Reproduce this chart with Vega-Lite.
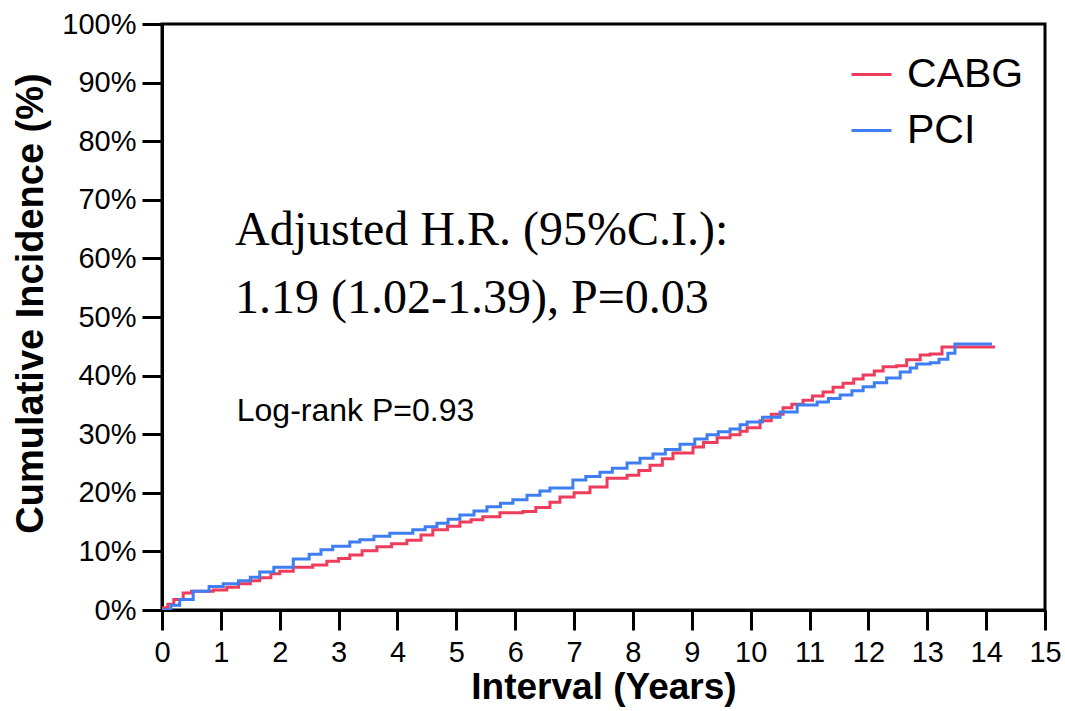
{
  "$schema": "https://vega.github.io/schema/vega-lite/v6.json",
  "width": 883,
  "height": 586,
  "autosize": {"type": "none"},
  "padding": {"left": 162, "top": 24, "right": 20, "bottom": 101},
  "background": "white",
  "config": {
    "view": {"stroke": "black", "strokeWidth": 3},
    "font": "Liberation Sans"
  },
  "datasets": {
    "curves": [
      {"group": "CABG", "t": 0, "inc": 0.4},
      {"group": "CABG", "t": 0.1, "inc": 1.0},
      {"group": "CABG", "t": 0.2, "inc": 1.8},
      {"group": "CABG", "t": 0.36, "inc": 2.9},
      {"group": "CABG", "t": 0.5, "inc": 3.2},
      {"group": "CABG", "t": 0.87, "inc": 3.4},
      {"group": "CABG", "t": 1.1, "inc": 3.9},
      {"group": "CABG", "t": 1.3, "inc": 4.5},
      {"group": "CABG", "t": 1.5, "inc": 5.0},
      {"group": "CABG", "t": 1.66, "inc": 5.5},
      {"group": "CABG", "t": 1.85, "inc": 6.2},
      {"group": "CABG", "t": 2.0, "inc": 6.6},
      {"group": "CABG", "t": 2.23, "inc": 7.3},
      {"group": "CABG", "t": 2.56, "inc": 7.7},
      {"group": "CABG", "t": 2.8, "inc": 8.3},
      {"group": "CABG", "t": 3.0, "inc": 8.8},
      {"group": "CABG", "t": 3.19, "inc": 9.4},
      {"group": "CABG", "t": 3.4, "inc": 10.1},
      {"group": "CABG", "t": 3.65, "inc": 10.8},
      {"group": "CABG", "t": 3.9, "inc": 11.3},
      {"group": "CABG", "t": 4.16, "inc": 11.9},
      {"group": "CABG", "t": 4.4, "inc": 12.8},
      {"group": "CABG", "t": 4.6, "inc": 13.7},
      {"group": "CABG", "t": 4.85, "inc": 14.3},
      {"group": "CABG", "t": 5.06, "inc": 15.0},
      {"group": "CABG", "t": 5.25, "inc": 15.4},
      {"group": "CABG", "t": 5.45, "inc": 15.9},
      {"group": "CABG", "t": 5.74, "inc": 16.6},
      {"group": "CABG", "t": 6.13, "inc": 16.8},
      {"group": "CABG", "t": 6.35, "inc": 17.5},
      {"group": "CABG", "t": 6.59, "inc": 18.4},
      {"group": "CABG", "t": 6.76, "inc": 19.3},
      {"group": "CABG", "t": 7.0, "inc": 20.0},
      {"group": "CABG", "t": 7.27, "inc": 21.0},
      {"group": "CABG", "t": 7.56, "inc": 22.5},
      {"group": "CABG", "t": 7.9, "inc": 23.0},
      {"group": "CABG", "t": 8.1, "inc": 23.8},
      {"group": "CABG", "t": 8.29, "inc": 24.7},
      {"group": "CABG", "t": 8.5, "inc": 25.8},
      {"group": "CABG", "t": 8.68, "inc": 26.8},
      {"group": "CABG", "t": 9.02, "inc": 27.8},
      {"group": "CABG", "t": 9.2, "inc": 28.6},
      {"group": "CABG", "t": 9.43, "inc": 29.4},
      {"group": "CABG", "t": 9.65, "inc": 29.9},
      {"group": "CABG", "t": 9.82, "inc": 30.5},
      {"group": "CABG", "t": 9.94, "inc": 31.1},
      {"group": "CABG", "t": 10.16, "inc": 32.3},
      {"group": "CABG", "t": 10.35, "inc": 33.4},
      {"group": "CABG", "t": 10.55, "inc": 34.5},
      {"group": "CABG", "t": 10.7, "inc": 35.1},
      {"group": "CABG", "t": 10.89, "inc": 35.8},
      {"group": "CABG", "t": 11.05, "inc": 36.5},
      {"group": "CABG", "t": 11.23, "inc": 37.2},
      {"group": "CABG", "t": 11.4, "inc": 38.0},
      {"group": "CABG", "t": 11.57, "inc": 38.7},
      {"group": "CABG", "t": 11.75, "inc": 39.4},
      {"group": "CABG", "t": 11.91, "inc": 40.1},
      {"group": "CABG", "t": 12.1, "inc": 40.8},
      {"group": "CABG", "t": 12.25, "inc": 41.5},
      {"group": "CABG", "t": 12.48, "inc": 41.7},
      {"group": "CABG", "t": 12.65, "inc": 42.7},
      {"group": "CABG", "t": 12.88, "inc": 43.5},
      {"group": "CABG", "t": 13.05, "inc": 43.7},
      {"group": "CABG", "t": 13.25, "inc": 44.9},
      {"group": "CABG", "t": 14.15, "inc": 44.9},
      {"group": "PCI", "t": 0, "inc": 0},
      {"group": "PCI", "t": 0.15, "inc": 0.8},
      {"group": "PCI", "t": 0.3, "inc": 1.8},
      {"group": "PCI", "t": 0.53, "inc": 3.2},
      {"group": "PCI", "t": 0.8, "inc": 4.0},
      {"group": "PCI", "t": 1.04, "inc": 4.5},
      {"group": "PCI", "t": 1.3, "inc": 5.0},
      {"group": "PCI", "t": 1.5, "inc": 5.6},
      {"group": "PCI", "t": 1.66, "inc": 6.5},
      {"group": "PCI", "t": 1.9, "inc": 7.3},
      {"group": "PCI", "t": 2.23, "inc": 8.7},
      {"group": "PCI", "t": 2.5, "inc": 9.5},
      {"group": "PCI", "t": 2.7, "inc": 10.3},
      {"group": "PCI", "t": 2.9, "inc": 10.9},
      {"group": "PCI", "t": 3.19, "inc": 11.6},
      {"group": "PCI", "t": 3.36, "inc": 12.0},
      {"group": "PCI", "t": 3.6, "inc": 12.6},
      {"group": "PCI", "t": 3.87, "inc": 13.1},
      {"group": "PCI", "t": 4.26, "inc": 13.7},
      {"group": "PCI", "t": 4.47, "inc": 14.2},
      {"group": "PCI", "t": 4.67, "inc": 14.8},
      {"group": "PCI", "t": 4.86, "inc": 15.5},
      {"group": "PCI", "t": 5.06, "inc": 16.2},
      {"group": "PCI", "t": 5.3, "inc": 16.9},
      {"group": "PCI", "t": 5.52, "inc": 17.6},
      {"group": "PCI", "t": 5.75, "inc": 18.2},
      {"group": "PCI", "t": 5.96, "inc": 18.8},
      {"group": "PCI", "t": 6.2, "inc": 19.6},
      {"group": "PCI", "t": 6.42, "inc": 20.3},
      {"group": "PCI", "t": 6.59, "inc": 20.8},
      {"group": "PCI", "t": 6.98, "inc": 22.2},
      {"group": "PCI", "t": 7.2, "inc": 22.8},
      {"group": "PCI", "t": 7.44, "inc": 23.5},
      {"group": "PCI", "t": 7.65, "inc": 24.2},
      {"group": "PCI", "t": 7.9, "inc": 25.1},
      {"group": "PCI", "t": 8.12, "inc": 25.9},
      {"group": "PCI", "t": 8.34, "inc": 26.6},
      {"group": "PCI", "t": 8.55, "inc": 27.4},
      {"group": "PCI", "t": 8.8, "inc": 28.3},
      {"group": "PCI", "t": 9.05, "inc": 29.2},
      {"group": "PCI", "t": 9.26, "inc": 29.9},
      {"group": "PCI", "t": 9.45, "inc": 30.4},
      {"group": "PCI", "t": 9.65, "inc": 30.9},
      {"group": "PCI", "t": 9.82, "inc": 31.6},
      {"group": "PCI", "t": 9.94, "inc": 32.1},
      {"group": "PCI", "t": 10.2, "inc": 32.9},
      {"group": "PCI", "t": 10.5, "inc": 33.8},
      {"group": "PCI", "t": 10.79, "inc": 35.0},
      {"group": "PCI", "t": 11.13, "inc": 35.5},
      {"group": "PCI", "t": 11.32, "inc": 36.1},
      {"group": "PCI", "t": 11.52, "inc": 36.7},
      {"group": "PCI", "t": 11.72, "inc": 37.4},
      {"group": "PCI", "t": 11.91, "inc": 38.1},
      {"group": "PCI", "t": 12.1, "inc": 38.8},
      {"group": "PCI", "t": 12.31, "inc": 39.6},
      {"group": "PCI", "t": 12.54, "inc": 40.6},
      {"group": "PCI", "t": 12.71, "inc": 41.3},
      {"group": "PCI", "t": 12.82, "inc": 42.0},
      {"group": "PCI", "t": 13.05, "inc": 42.2},
      {"group": "PCI", "t": 13.2, "inc": 42.8},
      {"group": "PCI", "t": 13.35, "inc": 43.8},
      {"group": "PCI", "t": 13.47, "inc": 45.4},
      {"group": "PCI", "t": 14.1, "inc": 45.4}
    ],
    "hrText": [
      {"t": 1.24, "inc": 62.3, "label": "Adjusted H.R. (95%C.I.):"},
      {"t": 1.24, "inc": 50.7, "label": "1.19 (1.02-1.39), P=0.03"}
    ],
    "logrankText": [
      {"t": 1.27, "inc": 32.3, "label": "Log-rank P=0.93"}
    ]
  },
  "layer": [
    {
      "data": {"name": "curves"},
      "mark": {"type": "line", "interpolate": "step-after", "strokeWidth": 3, "clip": true},
      "encoding": {
        "x": {
          "field": "t", "type": "quantitative",
          "scale": {"domain": [0, 15], "nice": false, "zero": false},
          "axis": {
            "title": "Interval (Years)",
            "values": [0,1,2,3,4,5,6,7,8,9,10,11,12,13,14,15],
            "format": "d",
            "grid": false,
            "domainColor": "black", "domainWidth": 3,
            "tickColor": "black", "tickWidth": 3, "tickSize": 20,
            "labelFont": "Liberation Sans", "labelFontSize": 29, "labelColor": "black",
            "labelPadding": 8, "labelFlush": false,
            "titleFont": "Liberation Sans", "titleFontSize": 37, "titleFontWeight": "bold", "titleColor": "black",
            "titlePadding": 2
          }
        },
        "y": {
          "field": "inc", "type": "quantitative",
          "scale": {"domain": [0, 100], "nice": false},
          "axis": {
            "title": "Cumulative Incidence (%)",
            "values": [0,10,20,30,40,50,60,70,80,90,100],
            "labelExpr": "datum.value + '%'",
            "grid": false,
            "domainColor": "black", "domainWidth": 3,
            "tickColor": "black", "tickWidth": 3, "tickSize": 20,
            "labelFont": "Liberation Sans", "labelFontSize": 29, "labelColor": "black",
            "labelPadding": 6, "labelFlush": false,
            "titleFont": "Liberation Sans", "titleFontSize": 38, "titleFontWeight": "bold", "titleColor": "black",
            "titlePadding": 11,
            "titleY": 279
          }
        },
        "color": {
          "field": "group", "type": "nominal",
          "scale": {"domain": ["CABG", "PCI"], "range": ["#EE3D5C", "#3E7EF2"]},
          "legend": {
            "title": null,
            "orient": "none",
            "legendX": 688,
            "legendY": 29,
            "padding": 0,
            "symbolType": "stroke",
            "symbolSize": 1600,
            "symbolStrokeWidth": 3,
            "labelFont": "Liberation Sans",
            "labelFontSize": 41,
            "labelColor": "black",
            "labelOffset": 14,
            "rowPadding": 14
          }
        }
      }
    },
    {
      "data": {"name": "hrText"},
      "mark": {"type": "text", "align": "left", "baseline": "alphabetic", "font": "Liberation Serif", "fontSize": 48, "color": "black"},
      "encoding": {
        "x": {"field": "t", "type": "quantitative"},
        "y": {"field": "inc", "type": "quantitative"},
        "text": {"field": "label"}
      }
    },
    {
      "data": {"name": "logrankText"},
      "mark": {"type": "text", "align": "left", "baseline": "alphabetic", "font": "Liberation Sans", "fontSize": 32, "color": "black"},
      "encoding": {
        "x": {"field": "t", "type": "quantitative"},
        "y": {"field": "inc", "type": "quantitative"},
        "text": {"field": "label"}
      }
    }
  ]
}
